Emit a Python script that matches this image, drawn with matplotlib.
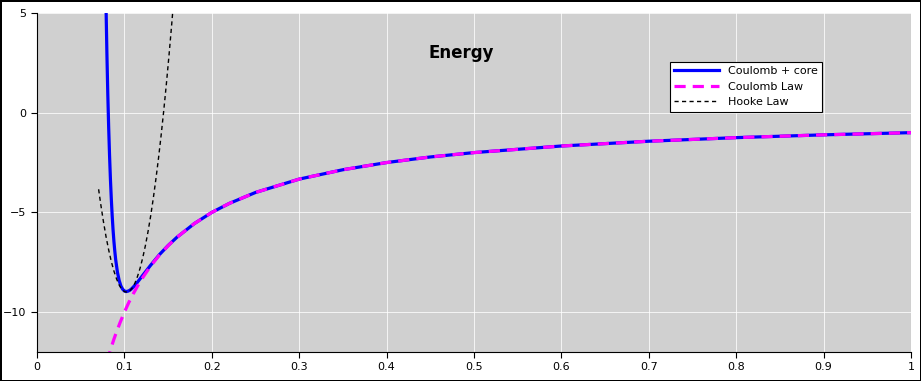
import numpy as np
import matplotlib
matplotlib.use("Agg")
import matplotlib.pyplot as plt

# values
core_x = [0.079, 0.080, 0.081, 0.082, 0.083, 0.084, 0.085, 0.086, 0.087, 0.088,
          0.089, 0.090, 0.092, 0.094, 0.096, 0.098, 0.100, 0.102, 0.104, 0.106,
          0.108, 0.110, 0.113, 0.116, 0.120, 0.125, 0.130, 0.140, 0.150, 0.160,
          0.180, 0.200, 0.220, 0.250, 0.300, 0.350, 0.400, 0.450, 0.500, 0.600,
          0.700, 0.800, 0.900, 1.000]
core_y = [5.28, 2.93, 0.94, -0.73, -2.13, -3.32, -4.31, -5.15, -5.86, -6.45,
          -6.94, -7.36, -7.99, -8.41, -8.69, -8.85, -8.94, -8.97, -8.95, -8.91,
          -8.84, -8.75, -8.61, -8.44, -8.21, -7.93, -7.65, -7.12, -6.66, -6.25,
          -5.56, -5.00, -4.55, -4.00, -3.33, -2.86, -2.50, -2.22, -2.00, -1.67,
          -1.43, -1.25, -1.11, -1.00]

coul_x = [0.080, 0.083, 0.085, 0.088, 0.090, 0.095, 0.100, 0.105, 0.110, 0.115,
          0.120, 0.130, 0.140, 0.150, 0.160, 0.180, 0.200, 0.220, 0.250, 0.300,
          0.350, 0.400, 0.450, 0.500, 0.600, 0.700, 0.800, 0.900, 1.000]
coul_y = [-12.50, -12.05, -11.76, -11.36, -11.11, -10.53, -10.00, -9.52, -9.09, -8.70,
          -8.33, -7.69, -7.14, -6.67, -6.25, -5.56, -5.00, -4.55, -4.00, -3.33,
          -2.86, -2.50, -2.22, -2.00, -1.67, -1.43, -1.25, -1.11, -1.00]

hooke_x = [0.0705, 0.073, 0.076, 0.079, 0.082, 0.085, 0.088, 0.091, 0.094, 0.097,
           0.100, 0.103, 0.106, 0.109, 0.112, 0.115, 0.118, 0.121, 0.124, 0.127,
           0.130, 0.133, 0.136, 0.139, 0.142, 0.145, 0.148, 0.151, 0.154, 0.157]
hooke_y = [-3.84, -4.61, -5.46, -6.22, -6.88, -7.46, -7.94, -8.33, -8.64, -8.85,
           -8.97, -9.00, -8.94, -8.79, -8.55, -8.21, -7.79, -7.27, -6.67, -5.97,
           -5.19, -4.31, -3.34, -2.29, -1.14, 0.10, 1.43, 2.86, 4.37, 5.97]

x_ticks = [0, 0.1, 0.2, 0.3, 0.4, 0.5, 0.6, 0.7, 0.8, 0.9, 1]
x_labels = ["0", "0.1", "0.2", "0.3", "0.4", "0.5", "0.6", "0.7", "0.8", "0.9", "1"]
y_ticks = [-10, -5, 0, 5]

fig = plt.figure(figsize=(9.21, 3.81), dpi=100)
fig.patch.set_facecolor("white")
fig.patch.set_edgecolor("black")
fig.patch.set_linewidth(2)
ax = fig.add_axes([37/921, 29/381, 874/921, 339/381])
ax.set_facecolor("#d0d0d0")

ax.plot(core_x, core_y, color="#0000ff", lw=2.3, label="Coulomb + core")
ax.plot(coul_x, coul_y, color="#ff00ff", lw=2.3, ls=(0, (3.5, 2.2)), label="Coulomb Law")
ax.plot(hooke_x, hooke_y, color="black", lw=1, ls=(0, (3, 2.4)), label="Hooke Law")

ax.set_xlim(0, 1)
ax.set_ylim(-12, 5)
ax.set_xticks(x_ticks)
ax.set_xticklabels(x_labels)
ax.set_yticks(y_ticks)
ax.grid(True, color="white", lw=0.6, alpha=0.9)
ax.set_axisbelow(True)
for s in ["top", "right"]:
    ax.spines[s].set_visible(False)
ax.tick_params(labelsize=8, direction="out", length=4)

ax.text(0.485, 3.0, "Energy", fontsize=12, fontweight="bold", ha="center", va="center")

leg = ax.legend(loc="upper left", bbox_to_anchor=(0.724, 0.856), fontsize=8,
                fancybox=False, framealpha=1, edgecolor="black", handlelength=4,
                borderaxespad=0)
leg.get_frame().set_linewidth(0.8)

fig.savefig("out.png", dpi=100)
